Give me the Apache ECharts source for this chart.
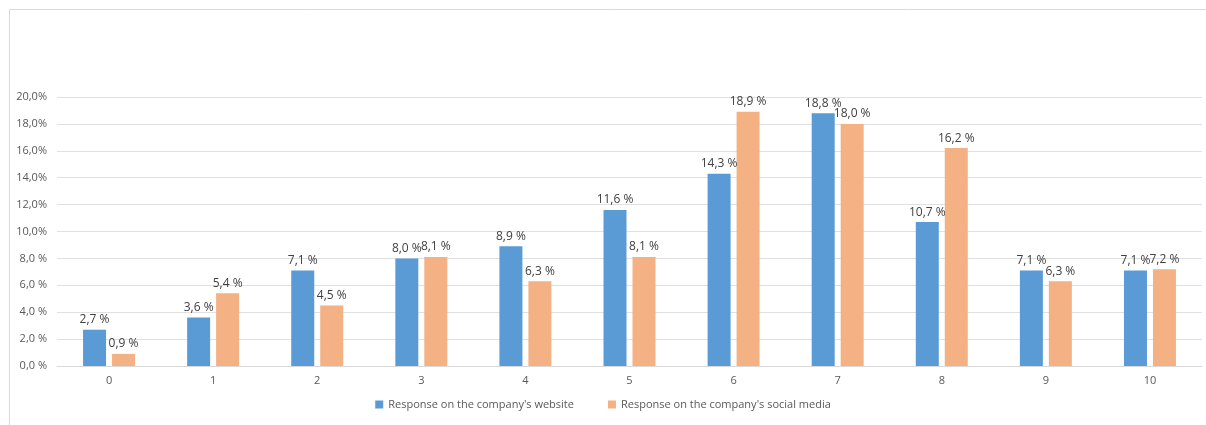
<!DOCTYPE html>
<html>
<head>
<meta charset="utf-8">
<style>
  html, body { margin: 0; padding: 0; background: #ffffff; }
  #chart { width: 1206px; height: 425px; }
</style>
<script src="https://cdn.jsdelivr.net/npm/echarts@6/dist/echarts.min.js"></script>
</head>
<body>
<div id="chart"></div>
<script>
// Rating scale 0–10
const categories = ['0', '1', '2', '3', '4', '5', '6', '7', '8', '9', '10'];
// Share of responses (%)
const websiteShare = [2.7, 3.6, 7.1, 8.0, 8.9, 11.6, 14.3, 18.8, 10.7, 7.1, 7.1];
const socialShare = [0.9, 5.4, 4.5, 8.1, 6.3, 8.1, 18.9, 18.0, 16.2, 6.3, 7.2];
const seriesNames = ["Response on the company's website", "Response on the company's social media"];

const FONT = '"Open Sans", "Noto Sans", sans-serif';

function pct(v) { return v.toFixed(1).replace('.', ','); }

const chart = echarts.init(document.getElementById('chart'), null, { renderer: 'canvas' });

const labelStyle = {
  show: true,
  position: 'top',
  distance: 4,
  fontFamily: FONT,
  fontSize: 12,
  color: '#404040',
  formatter: p => pct(p.value) + ' %'
};

chart.setOption({
  backgroundColor: '#ffffff',
  animation: false,
  graphic: [{
    type: 'rect',
    shape: { x: 9.5, y: 9.5, width: 1300, height: 500 },
    style: { fill: 'none', stroke: '#d9d9d9', lineWidth: 1 },
    silent: true,
    z: -1
  }],
  grid: { left: 57, right: 4, top: 97, bottom: 59 },
  legend: {
    bottom: 10,
    left: 'center',
    itemWidth: 8,
    itemHeight: 8,
    itemGap: 34,
    icon: 'rect',
    textStyle: { fontFamily: FONT, fontSize: 11, color: '#595959' },
    data: seriesNames
  },
  xAxis: {
    type: 'category',
    data: categories,
    axisLine: { lineStyle: { color: '#d9d9d9' } },
    axisTick: { show: false },
    axisLabel: { fontFamily: FONT, fontSize: 11, color: '#595959', margin: 9 }
  },
  yAxis: {
    type: 'value',
    min: 0,
    max: 20,
    interval: 2,
    axisLine: { show: false },
    axisTick: { show: false },
    splitLine: { lineStyle: { color: '#e0e0e0' } },
    axisLabel: {
      fontFamily: FONT, fontSize: 11, color: '#595959', margin: 10,
      formatter: v => v >= 10 ? pct(v) + '%' : pct(v) + ' %'
    }
  },
  series: [
    {
      name: seriesNames[0],
      type: 'bar',
      data: websiteShare,
      barWidth: 23,
      barGap: '26%',
      itemStyle: { color: '#5b9bd5' },
      label: labelStyle
    },
    {
      name: seriesNames[1],
      type: 'bar',
      data: socialShare,
      barWidth: 23,
      itemStyle: { color: '#f4b183' },
      label: labelStyle
    }
  ]
});
</script>
</body>
</html>
